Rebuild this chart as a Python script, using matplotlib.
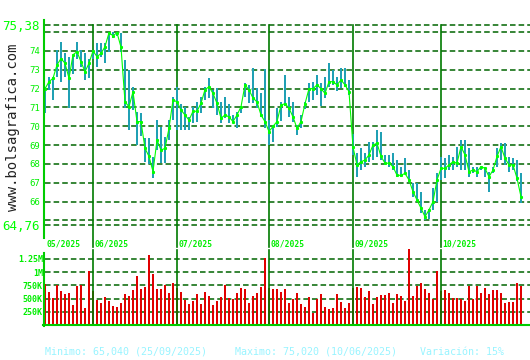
import numpy as np
import pandas as pd
import matplotlib
matplotlib.use('Agg')
import matplotlib.pyplot as plt
from matplotlib.lines import Line2D
from matplotlib.transforms import blended_transform_factory

# Daily data, trading days 15/05/2025 - 29/10/2025
close = [
    72.00, 72.37, 72.55, 73.26, 73.60, 73.35, 72.55, 73.80, 73.96, 73.43,
    72.90, 73.35, 74.00, 73.70, 73.87, 74.23, 74.97, 74.81, 74.97, 74.20,
    71.30, 71.04, 71.84, 70.25, 70.25, 68.83, 68.40, 67.60, 69.27, 68.74,
    68.83, 69.90, 71.40, 71.30, 70.87, 70.60, 70.33, 70.80, 70.80, 71.22,
    71.95, 72.10, 71.75, 71.22, 70.43, 70.60, 70.50, 70.25, 70.60, 71.04,
    72.20, 71.93, 71.50, 71.30, 70.60, 70.25, 69.72, 70.00, 70.25, 71.13,
    71.20, 70.96, 70.50, 69.90, 70.25, 71.20, 72.00, 72.00, 72.20, 72.00,
    71.75, 72.37, 72.37, 72.20, 72.46, 72.20, 71.84, 68.90, 67.95, 68.12,
    68.21, 68.48, 69.01, 69.10, 68.40, 68.04, 68.04, 67.86, 67.40, 67.40,
    67.50, 67.15, 66.53, 66.09, 65.65, 65.20, 65.56, 66.00, 67.15, 67.77,
    67.77, 67.95, 68.12, 68.04, 68.92, 68.48, 67.59, 67.68, 67.59, 67.86,
    67.77, 67.32, 67.68, 68.40, 68.92, 68.30, 67.95, 67.95, 67.24, 66.26,
]
high = [
    72.10, 72.64, 72.60, 74.05, 74.50, 73.87, 73.70, 73.80, 74.50, 74.05,
    73.90, 73.60, 74.05, 74.40, 74.40, 74.40, 75.00, 75.00, 75.02, 74.95,
    73.52, 72.99, 72.10, 70.77, 70.70, 69.36, 69.36, 68.39, 70.33, 69.98,
    69.45, 70.33, 71.57, 72.10, 71.20, 71.00, 70.50, 71.00, 71.30, 71.57,
    72.10, 72.55, 71.93, 72.02, 71.30, 71.57, 71.20, 70.60, 70.77, 71.10,
    72.28, 72.20, 73.08, 72.02, 71.75, 73.05, 70.33, 70.07, 70.96, 71.30,
    72.73, 71.57, 71.30, 70.07, 70.60, 71.30, 72.28, 72.37, 72.73, 72.30,
    72.60, 73.34, 72.99, 72.60, 73.08, 73.08, 72.46, 69.60, 68.57, 68.83,
    68.57, 69.18, 69.18, 69.80, 69.71, 68.48, 68.48, 68.57, 68.21, 67.86,
    68.30, 67.68, 66.97, 66.97, 66.53, 65.56, 65.60, 66.71, 67.50, 68.39,
    68.30, 68.48, 68.39, 68.92, 69.27, 69.27, 68.83, 67.86, 67.86, 67.86,
    67.86, 67.59, 67.86, 68.83, 69.10, 69.10, 68.39, 68.30, 68.21, 67.50,
]
low = [
    70.70, 71.93, 71.40, 72.64, 72.37, 72.64, 70.96, 72.80, 73.60, 73.17,
    72.46, 72.55, 73.60, 73.17, 73.70, 73.35, 73.96, 74.70, 74.80, 73.96,
    70.96, 69.80, 70.87, 69.01, 69.50, 68.12, 68.00, 67.24, 68.74, 68.04,
    68.04, 69.27, 70.33, 69.80, 69.80, 69.80, 69.80, 70.16, 70.25, 70.70,
    71.40, 71.49, 70.96, 70.60, 70.16, 70.43, 70.16, 70.16, 69.90, 70.70,
    71.57, 71.22, 71.22, 70.96, 70.50, 69.90, 69.01, 69.18, 69.98, 70.30,
    71.10, 70.51, 70.25, 69.54, 69.90, 70.90, 71.30, 71.40, 71.66, 71.10,
    71.50, 72.10, 72.20, 71.90, 72.02, 72.10, 71.66, 68.50, 67.32, 67.68,
    67.86, 68.12, 68.21, 68.39, 68.21, 67.95, 67.86, 67.68, 67.32, 67.32,
    67.50, 67.06, 66.26, 66.09, 65.38, 65.04, 65.10, 65.56, 66.00, 67.15,
    67.24, 67.68, 67.68, 67.86, 67.68, 67.68, 67.32, 67.50, 67.32, 67.68,
    67.32, 66.53, 67.50, 67.86, 68.21, 67.95, 67.59, 67.68, 67.10, 65.91,
]
# volume in thousands
volume = [
    781, 631, 506, 762, 650, 581, 600, 375, 731, 750,
    319, 1012, 650, 469, 412, 519, 450, 356, 337, 412,
    581, 544, 656, 919, 675, 712, 1312, 956, 675, 675,
    750, 600, 787, 700, 619, 469, 394, 450, 581, 394,
    619, 544, 375, 450, 525, 750, 506, 487, 600, 694,
    675, 412, 544, 600, 712, 1270, 700, 687, 687, 625,
    675, 412, 487, 600, 394, 337, 519, 225, 487, 581,
    337, 300, 319, 581, 431, 319, 412, 700, 712, 694,
    525, 637, 394, 525, 562, 562, 600, 412, 581, 544,
    450, 1425, 544, 731, 787, 675, 600, 500, 1019, 650,
    656, 600, 506, 506, 487, 450, 731, 487, 731, 600,
    694, 581, 656, 656, 600, 412, 431, 431, 787, 731,
]

price_ticks = [64.76, 66, 67, 68, 69, 70, 71, 72, 73, 74, 75.38]
price_labels = ['64,76', '66', '67', '68', '69', '70', '71', '72', '73', '74', '75,38']
minimo, maximo = 65.04, 75.02
vol_ticks = [250, 500, 750, 1000, 1250]
vol_labels = ['250K', '500K', '750K', '1M', '1.25M']
footer = ['Minimo: 65,040 (25/09/2025)', 'Maximo: 75,020 (10/06/2025)', 'Variación: 15%']
site = 'www.bolsagrafica.com'

dates = pd.bdate_range('2025-05-15', '2025-10-29')
days = np.arange(len(dates))
month_starts = [i for i in days if i == 0 or dates[i].month != dates[i - 1].month]

plt.rcParams['font.family'] = 'DejaVu Sans Mono'
plt.rcParams['lines.scale_dashes'] = False

W, H = 530, 360
fig = plt.figure(figsize=(W / 100, H / 100), dpi=100)
fig.patch.set_facecolor('white')

def box(l, t, r, b):
    return [l / W, 1 - b / H, (r - l) / W, (b - t) / H]

def fig_line(x0, y0, x1, y1, **kw):
    fig.add_artist(Line2D([x0 / W, x1 / W], [1 - y0 / H, 1 - y1 / H], **kw))

grid_color = '#006400'
month_color = '#007a00'
label_color = '#00ee00'
dash = (4, 2.2)

# price panel
ax = fig.add_axes(box(45, 25, 530, 225))
ax.set_xlim(0, 121.25)
ax.set_ylim(64.76, 75.38)
ax.set_facecolor('none')
for s in ax.spines.values():
    s.set_visible(False)
ax.set_xticks([])
ax.set_yticks(price_ticks, price_labels)
ax.tick_params(axis='y', length=0, pad=3.6, labelsize=6.5, labelcolor=label_color)
for lab in ax.get_yticklabels():
    if ',' in lab.get_text():
        lab.set_fontsize(9)
        lab.set_color('#00ff00')

for y in price_ticks + [minimo, maximo]:
    ax.axhline(y, color=grid_color, lw=1.1, dashes=dash, clip_on=False, zorder=1)
for m in month_starts[1:]:
    ax.axvline(m, ymin=-0.11, ymax=1, color=month_color, lw=1.2, clip_on=False, zorder=1)

ax.vlines(days, low, high, color='#20a0b4', lw=1.3, antialiased=False, zorder=2)
ax.plot(days, close, color='#00ff00', lw=0.8, marker='s', ms=1.2, zorder=3)

trans = blended_transform_factory(ax.transData, ax.transAxes)
for m in month_starts:
    ax.text(m + 0.3, -0.095, dates[m].strftime('%m/%Y'), transform=trans,
            ha='left', va='center', fontsize=5.8, fontweight='bold', color=label_color)

# volume panel
vax = fig.add_axes(box(45, 248, 530, 325))
vax.set_xlim(0, 121.25)
vax.set_ylim(0, 1453)
vax.set_facecolor('none')
for s in vax.spines.values():
    s.set_visible(False)
vax.set_xticks([])
vax.set_yticks(vol_ticks, vol_labels)
vax.tick_params(axis='y', length=0, pad=1.5, labelsize=6, labelcolor=label_color)
for lab in vax.get_yticklabels():
    lab.set_fontweight('bold')

for y in vol_ticks:
    vax.axhline(y, color=grid_color, lw=1.1, dashes=dash, zorder=1)
vax.bar(days, volume, width=0.35, color='#e00000', linewidth=0, zorder=2)
for m in month_starts[1:]:
    vax.axvline(m, ymin=0, ymax=0.97, color=month_color, lw=1.2, zorder=3)
vax.axhline(0, xmin=-0.005, xmax=1, color='#00cc00', lw=1.5, clip_on=False, zorder=4)

# left frame lines
fig_line(44, 20, 44, 238, color='#00cc00', lw=1.5)
fig_line(43.5, 253, 43.5, 326, color='#00cc00', lw=1.5)

fig.text(13 / W, 1 - 127 / H, site, rotation=90, ha='center', va='center',
         fontsize=10, color='#222222')

for x, txt in zip([45, 235, 420], footer):
    fig.text(x / W, 1 - 352 / H, txt, ha='left', va='center', fontsize=7.2, color='#99f4ff')

fig.savefig('out.png', dpi=100, facecolor='white')
